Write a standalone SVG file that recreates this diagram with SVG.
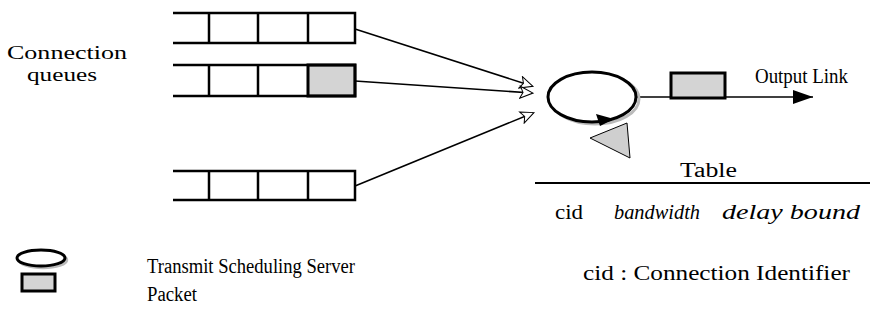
<svg xmlns="http://www.w3.org/2000/svg" width="876" height="325" viewBox="0 0 876 325">
<style>
text{font-family:"Liberation Serif","DejaVu Serif",serif;font-size:20px;fill:#000}
.it{font-style:italic}
.sm{font-size:18px}
.q{fill:none;stroke:#000;stroke-width:2.5}
.pk{fill:#d4d4d4;stroke:#000;stroke-width:3}
.ln{fill:none;stroke:#000;stroke-width:1.6}
</style>
<defs>
<marker id="open" markerWidth="16" markerHeight="16" refX="13" refY="7" orient="auto" markerUnits="userSpaceOnUse">
<path d="M1,1 L14,7 L1,13 L4,7 Z" fill="#fff" stroke="#000" stroke-width="1"/>
</marker>
<marker id="solid" markerWidth="22" markerHeight="16" refX="20" refY="7" orient="auto" markerUnits="userSpaceOnUse">
<path d="M0,0 L20,7 L0,14 Z" fill="#000"/>
</marker>
</defs>
<g id="connectors">
<line class="ln" x1="355" y1="29" x2="532" y2="86" marker-end="url(#open)"/>
<line class="ln" x1="355" y1="81" x2="532" y2="93" marker-end="url(#open)"/>
<line class="ln" x1="355" y1="186" x2="533" y2="113" marker-end="url(#open)"/>
<line class="ln" x1="637" y1="97" x2="813" y2="97" marker-end="url(#solid)"/>
</g>
<g id="queue1">
<path class="q" d="M173,13 H355 V43 H173"/>
<line class="q" x1="209" y1="13" x2="209" y2="43"/>
<line class="q" x1="258" y1="13" x2="258" y2="43"/>
<line class="q" x1="308" y1="13" x2="308" y2="43"/>
</g>
<g id="queue2">
<rect class="pk" x="308" y="65" width="47" height="31"/>
<path class="q" d="M173,65 H355 V96 H173"/>
<line class="q" x1="209" y1="65" x2="209" y2="96"/>
<line class="q" x1="258" y1="65" x2="258" y2="96"/>
</g>
<g id="queue3">
<path class="q" d="M173,171 H355 V200 H173"/>
<line class="q" x1="209" y1="171" x2="209" y2="200"/>
<line class="q" x1="258" y1="171" x2="258" y2="200"/>
<line class="q" x1="308" y1="171" x2="308" y2="200"/>
</g>
<g id="server">
<ellipse cx="595" cy="99" rx="44" ry="25" fill="none" stroke="#bbb" stroke-width="3"/>
<ellipse cx="592" cy="97" rx="44" ry="25" fill="#fff" stroke="#000" stroke-width="3"/>
<polygon points="590,138 627,123 630,158" fill="#cfcfcf" stroke="#000" stroke-width="1"/>
<path d="M596,114 L614,119 L600,126 Z" fill="#000"/>
</g>
<g id="outpacket">
<rect class="pk" x="671" y="73" width="54" height="25"/>
</g>
<g id="labels">
<text class="sm" x="7" y="59" textLength="120" lengthAdjust="spacingAndGlyphs">Connection</text>
<text class="sm" x="27" y="81" textLength="70" lengthAdjust="spacingAndGlyphs">queues</text>
<text x="755" y="83" textLength="93" lengthAdjust="spacingAndGlyphs">Output Link</text>
</g>
<g id="table">
<line x1="535" y1="183" x2="870" y2="183" stroke="#000" stroke-width="2"/>
<text x="680" y="177" textLength="57" lengthAdjust="spacingAndGlyphs">Table</text>
<text x="555" y="219" textLength="28" lengthAdjust="spacingAndGlyphs">cid</text>
<text class="it" x="614" y="219" textLength="86" lengthAdjust="spacingAndGlyphs">bandwidth</text>
<text class="it" x="722" y="219" textLength="138" lengthAdjust="spacingAndGlyphs">delay bound</text>
</g>
<g id="legend">
<ellipse cx="43" cy="260" rx="24" ry="8" fill="none" stroke="#bbb" stroke-width="2.5"/>
<ellipse cx="41" cy="258" rx="24" ry="8" fill="#fff" stroke="#000" stroke-width="3"/>
<rect class="pk" x="22" y="274" width="33" height="17"/>
<text x="147" y="273" textLength="208" lengthAdjust="spacingAndGlyphs">Transmit Scheduling Server</text>
<text x="147" y="301" textLength="50" lengthAdjust="spacingAndGlyphs">Packet</text>
<text x="583" y="280" textLength="267" lengthAdjust="spacingAndGlyphs">cid : Connection Identifier</text>
</g>
</svg>
